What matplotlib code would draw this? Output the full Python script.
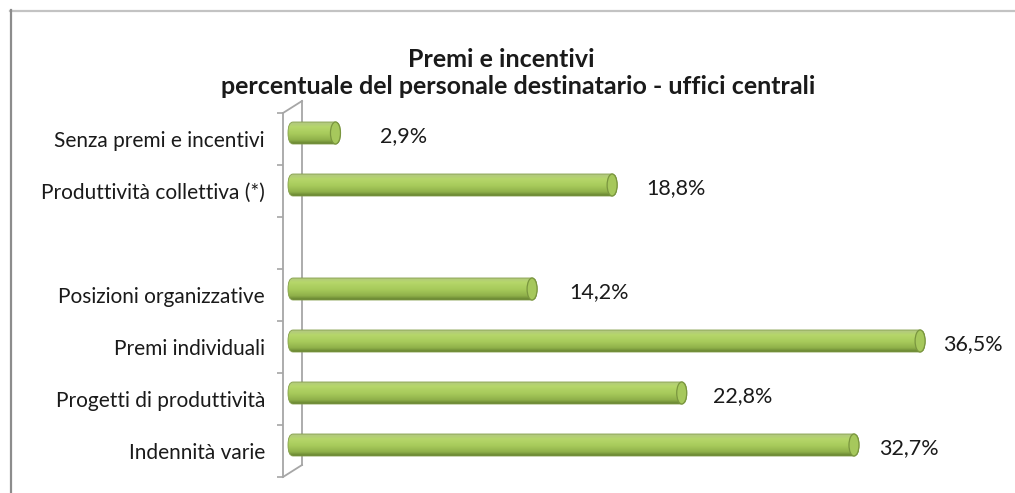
import numpy as np
import matplotlib
matplotlib.use("Agg")
import matplotlib.pyplot as plt
from matplotlib.colors import LinearSegmentedColormap
from matplotlib.patches import FancyBboxPatch, Ellipse
from matplotlib.lines import Line2D

# Data (top to bottom, empty slot between the two groups)
CATEGORIES = [
    "Senza premi e incentivi",
    "Produttività collettiva (*)",
    "",
    "Posizioni organizzative",
    "Premi individuali",
    "Progetti di produttività",
    "Indennità varie",
]
VALUES = [2.9, 18.8, None, 14.2, 36.5, 22.8, 32.7]

TITLE_1 = "Premi e incentivi"
TITLE_2 = "percentuale del personale destinatario - uffici centrali"

FONT = ["Lato", "DejaVu Sans"]
plt.rcParams["font.family"] = FONT

W, H = 1015, 493
fig = plt.figure(figsize=(W / 100, H / 100), dpi=100)

# axes placed in pixels: left edge = front wall line
px_left, px_right, px_top, px_bot = 283, 1010, 100, 480
ax = fig.add_axes([px_left / W, (H - px_bot) / H,
                   (px_right - px_left) / W, (px_bot - px_top) / H])

xscale = 17.4   # px per percent
yscale = 52.0   # px per slot
x_min = -(290 - px_left) / xscale
x_max = (px_right - 290) / xscale
y_top = (px_top - 139) / yscale
y_bot = (px_bot - 139) / yscale

cmap = LinearSegmentedColormap.from_list(
    "cyl", [(0.0, "#b2c683"), (0.22, "#b6d76a"), (0.55, "#a6c95a"),
            (0.82, "#8fb04a"), (1.0, "#627f2e")])
grad = np.linspace(0, 1, 64).reshape(-1, 1)

bar_h = 22 / yscale
r = 5 / xscale
x0 = -2 / xscale
shift = 6 / yscale

for i, v in enumerate(VALUES):
    if v is None:
        continue
    yc = i - shift
    box = FancyBboxPatch((x0, yc - bar_h / 2), v - x0, bar_h,
                         boxstyle=f"round,pad=0,rounding_size={r}",
                         mutation_aspect=bar_h / (2 * r),
                         fc="none", ec="#849f4a", lw=0.6, zorder=4)
    ax.add_patch(box)
    im = ax.imshow(grad, extent=(x0, v, yc + bar_h / 2, yc - bar_h / 2),
                   aspect="auto", cmap=cmap, zorder=3, interpolation="bilinear")
    im.set_clip_path(box)
    ax.add_patch(Ellipse((v - r, yc), 2 * r, bar_h, fc="#a6c85c",
                         ec="#7a963f", lw=0.9, zorder=5))
    # labels (Excel places them slightly compressed toward front plane)
    lx = 0.963 * v + 2.36
    ax.text(lx, i - 0.06, f"{v:.1f}%".replace(".", ","), ha="left",
            va="center", fontsize=15.5, color="#1a1a1a", zorder=6)

# 3D wall outline
back_x = (302 - 290) / xscale
back_dy = 12 / yscale
wall = dict(color="#a6a6a6", lw=1.3, clip_on=False, zorder=1)
ax.plot([back_x, back_x], [-0.5 - back_dy, 6.5 - back_dy], **wall)
ax.plot([x_min, back_x], [-0.5, -0.5 - back_dy], **wall)
ax.plot([x_min, back_x], [6.5, 6.5 - back_dy], **wall)

ax.set_xlim(x_min, x_max)
ax.set_ylim(y_bot, y_top)

for s in ["top", "right", "bottom"]:
    ax.spines[s].set_visible(False)
ax.spines["left"].set_bounds(-0.5, 6.5)
ax.spines["left"].set_color("#a6a6a6")
ax.spines["left"].set_linewidth(1.3)

ax.set_xticks([])
ax.set_yticks(range(len(CATEGORIES)))
ax.set_yticklabels(CATEGORIES, fontsize=15, color="#1a1a1a")
ax.tick_params(axis="y", which="major", length=0, pad=13)
ax.set_yticks(np.arange(-0.5, len(CATEGORIES)), minor=True)
ax.tick_params(axis="y", which="minor", length=4, width=1.2, color="#a6a6a6")
ax.patch.set_visible(False)

# titles
fig.text(501 / W, 1 - 67 / H, TITLE_1, ha="center", va="baseline",
         fontsize=18, fontweight="bold", color="#1a1a1a")
fig.text(518 / W, 1 - 94 / H, TITLE_2, ha="center", va="baseline",
         fontsize=18, fontweight="bold", color="#1a1a1a")

# chart frame (top and left edges visible)
fig.add_artist(Line2D([10 / W, 1], [1 - 10.5 / H, 1 - 10.5 / H],
                      color="#c3c3c3", lw=1.6))
fig.add_artist(Line2D([10.5 / W, 10.5 / W], [0, 1 - 10 / H],
                      color="#8c8c8c", lw=1.6))

fig.savefig("out.png", dpi=100)
